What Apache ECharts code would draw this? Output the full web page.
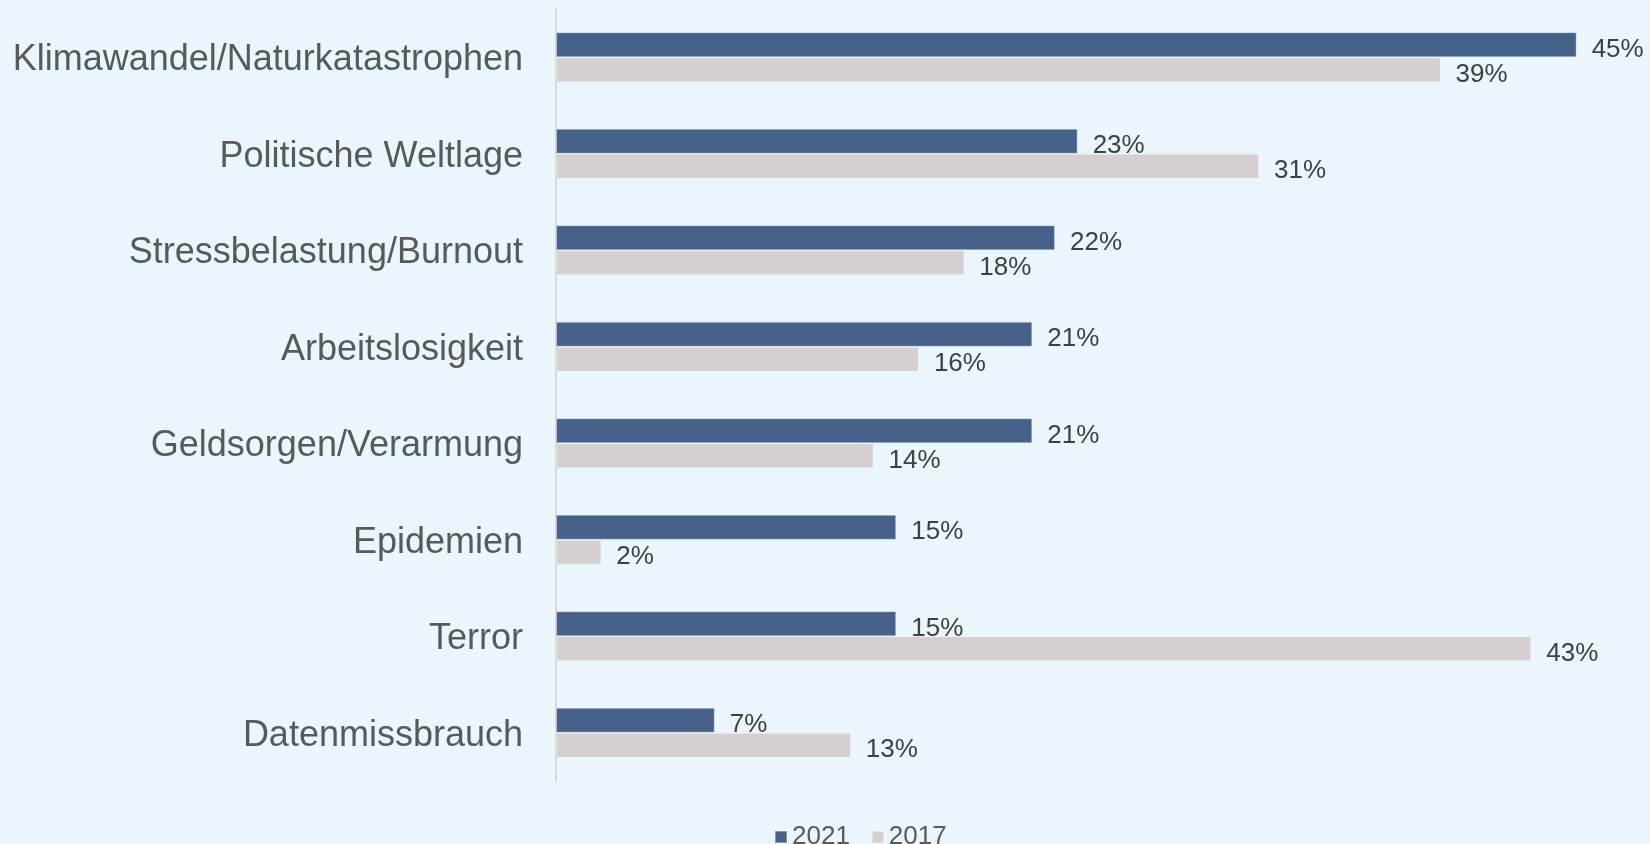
<!DOCTYPE html>
<html>
<head>
<meta charset="utf-8">
<script src="https://cdn.jsdelivr.net/npm/echarts@6/dist/echarts.min.js"></script>
<style>
  html, body { margin: 0; padding: 0; background: #eaf6fc; }
  #chart { width: 1650px; height: 844px; }
</style>
</head>
<body>
<div id="chart"></div>
<script>
const categories = [
  'Klimawandel/Naturkatastrophen',
  'Politische Weltlage',
  'Stressbelastung/Burnout',
  'Arbeitslosigkeit',
  'Geldsorgen/Verarmung',
  'Epidemien',
  'Terror',
  'Datenmissbrauch'
];
const values2021 = [45, 23, 22, 21, 21, 15, 15, 7];
const values2017 = [39, 31, 18, 16, 14, 2, 43, 13];
const seriesNames = ['2021', '2017'];

const font = '"Liberation Sans", Arial, sans-serif';

const valueLabel = {
  show: true,
  position: 'right',
  distance: 15,
  offset: [0, 5],
  formatter: '{c}%',
  fontFamily: font,
  fontSize: 26,
  color: '#404040'
};

const chart = echarts.init(document.getElementById('chart'));
chart.setOption({
  backgroundColor: '#eaf6fc',
  animation: false,
  grid: { left: 556, top: 9, width: 1066, height: 772, outerBoundsMode: 'none' },
  legend: {
    left: 774,
    top: 824,
    padding: 0,
    itemWidth: 12,
    itemHeight: 12,
    itemGap: 21,
    icon: 'rect',
    textStyle: { fontFamily: font, fontSize: 26, color: '#595959' },
    data: seriesNames
  },
  xAxis: {
    type: 'value',
    min: 0,
    max: 47,
    show: false,
    splitLine: { show: false }
  },
  yAxis: {
    type: 'category',
    inverse: true,
    data: categories,
    axisLine: { show: true, lineStyle: { color: '#d9d9d9', width: 2 } },
    axisTick: { show: false },
    axisLabel: {
      margin: 33,
      formatter: v => '{a|' + v + '}',
      rich: {
        a: { fontFamily: font, fontSize: 36, color: '#595959', padding: [6, 0, 0, 0] }
      }
    }
  },
  series: [
    {
      name: seriesNames[0],
      type: 'bar',
      data: values2021,
      barWidth: 25,
      barGap: '0%',
      itemStyle: { color: '#46628a', borderColor: 'rgba(255,255,255,0.35)', borderWidth: 1 },
      label: valueLabel
    },
    {
      name: seriesNames[1],
      type: 'bar',
      data: values2017,
      barWidth: 25,
      barGap: '0%',
      itemStyle: { color: '#d5cfcf', borderColor: 'rgba(255,255,255,0.35)', borderWidth: 1 },
      label: valueLabel
    }
  ]
});
</script>
</body>
</html>
